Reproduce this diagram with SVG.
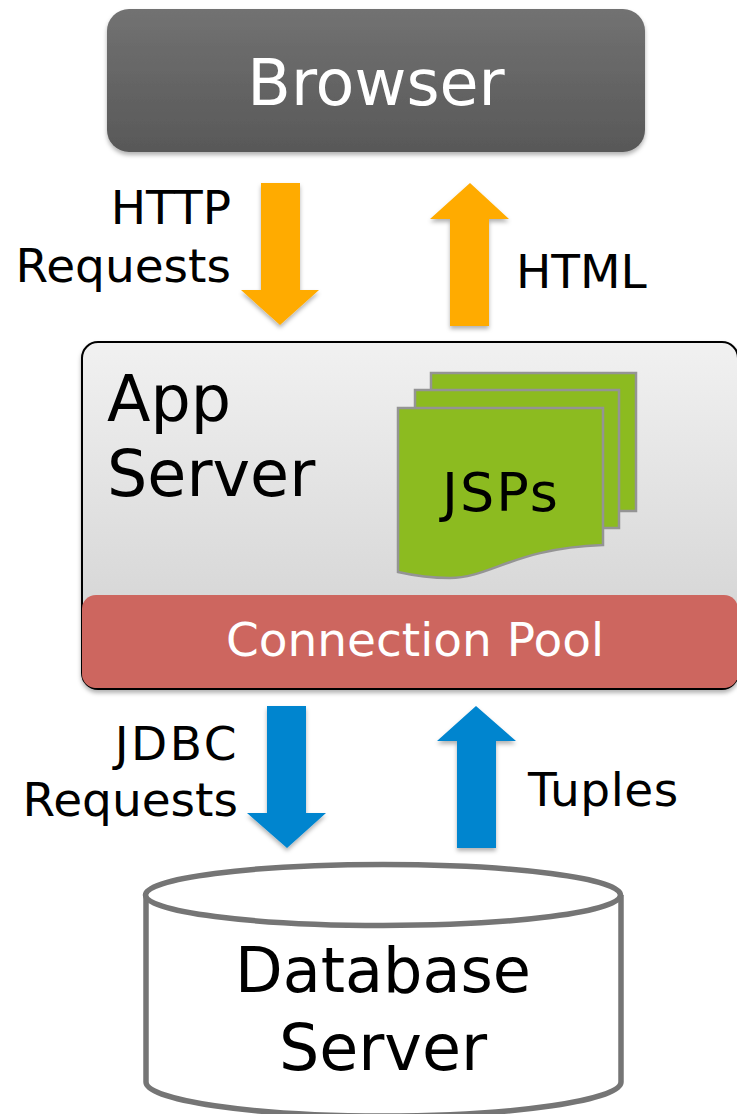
<svg xmlns="http://www.w3.org/2000/svg" width="737" height="1114" viewBox="0 0 737 1114">
<style>
text{font-family:"DejaVu Sans",Verdana,sans-serif;fill:#000}
.w{fill:#fff}
.lbl{font-size:47px}
.big{font-size:63.500px}
.or{fill:#ffab00;filter:url(#s)}
.bl{fill:#0085cf;filter:url(#s)}
.pg{fill:#8cbb20;stroke:#949494;stroke-width:2.500}
</style>
<defs>
<linearGradient id="gb" x1="0" y1="0" x2="0" y2="1"><stop offset="0" stop-color="#727272"/><stop offset="1" stop-color="#585858"/></linearGradient>
<linearGradient id="ga" x1="0" y1="0" x2="0" y2="1"><stop offset="0" stop-color="#f1f1f1"/><stop offset="1" stop-color="#cfcfcf"/></linearGradient>
<filter id="s" x="-20%" y="-20%" width="140%" height="140%"><feDropShadow dx="0" dy="3" stdDeviation="2" flood-color="#000" flood-opacity=".3"/></filter>
</defs>
<g id="browser">
<rect x="107" y="9" width="538" height="143" rx="22" fill="url(#gb)" filter="url(#s)"/>
<text class="big w" x="376" y="105" text-anchor="middle">Browser</text>
</g>
<g id="connectors">
<path class="or" d="M261 183H300V290H319L280 325L241 290H261Z"/>
<path class="or" d="M450 326H489V219H509L470 183L430 219H450Z"/>
<path class="bl" d="M267 706H306V813H326L287 848L247 813H267Z"/>
<path class="bl" d="M457 848H496V741H516L476 706L437 741H457Z"/>
</g>
<g id="labels">
<text class="lbl" x="231" y="224" text-anchor="end">HTTP</text>
<text class="lbl" x="231" y="282" text-anchor="end">Requests</text>
<text class="lbl" x="516" y="288">HTML</text>
<text class="lbl" x="239" y="760" text-anchor="end" letter-spacing="2.500">JDBC</text>
<text class="lbl" x="238" y="816" text-anchor="end">Requests</text>
<text class="lbl" x="528" y="806" letter-spacing=".5">Tuples</text>
</g>
<g id="app-server">
<rect x="82" y="342" width="656" height="347" rx="16" fill="url(#ga)" stroke="#000" stroke-width="2" filter="url(#s)"/>
<text class="big" x="107" y="421">App</text>
<text class="big" x="107" y="496">Server</text>
</g>
<g id="jsps">
<path class="pg" d="M431 373H636V511H431Z"/>
<path class="pg" d="M415 390H619V528H415Z"/>
<path class="pg" d="M398 408H603V545C515 548 490 578 450 578C435 578 420 577 398 572Z"/>
<text x="501" y="511" font-size="54" letter-spacing="2" text-anchor="middle">JSPs</text>
</g>
<g id="connection-pool">
<rect x="82" y="595" width="656" height="93" rx="14" fill="#cd665f"/>
<text class="w" x="415" y="656" font-size="47" text-anchor="middle">Connection Pool</text>
</g>
<g id="database">
<path d="M146 895V1082C146 1100 250 1116 383 1116C516 1116 621 1100 621 1082V895" fill="#fff" stroke="#757575" stroke-width="5.500"/>
<ellipse cx="383" cy="895" rx="237.500" ry="30.500" fill="#fff" stroke="#757575" stroke-width="5.500"/>
<text x="383" y="992" font-size="62" text-anchor="middle">Database</text>
<text class="big" x="383" y="1070" text-anchor="middle">Server</text>
</g>
</svg>
